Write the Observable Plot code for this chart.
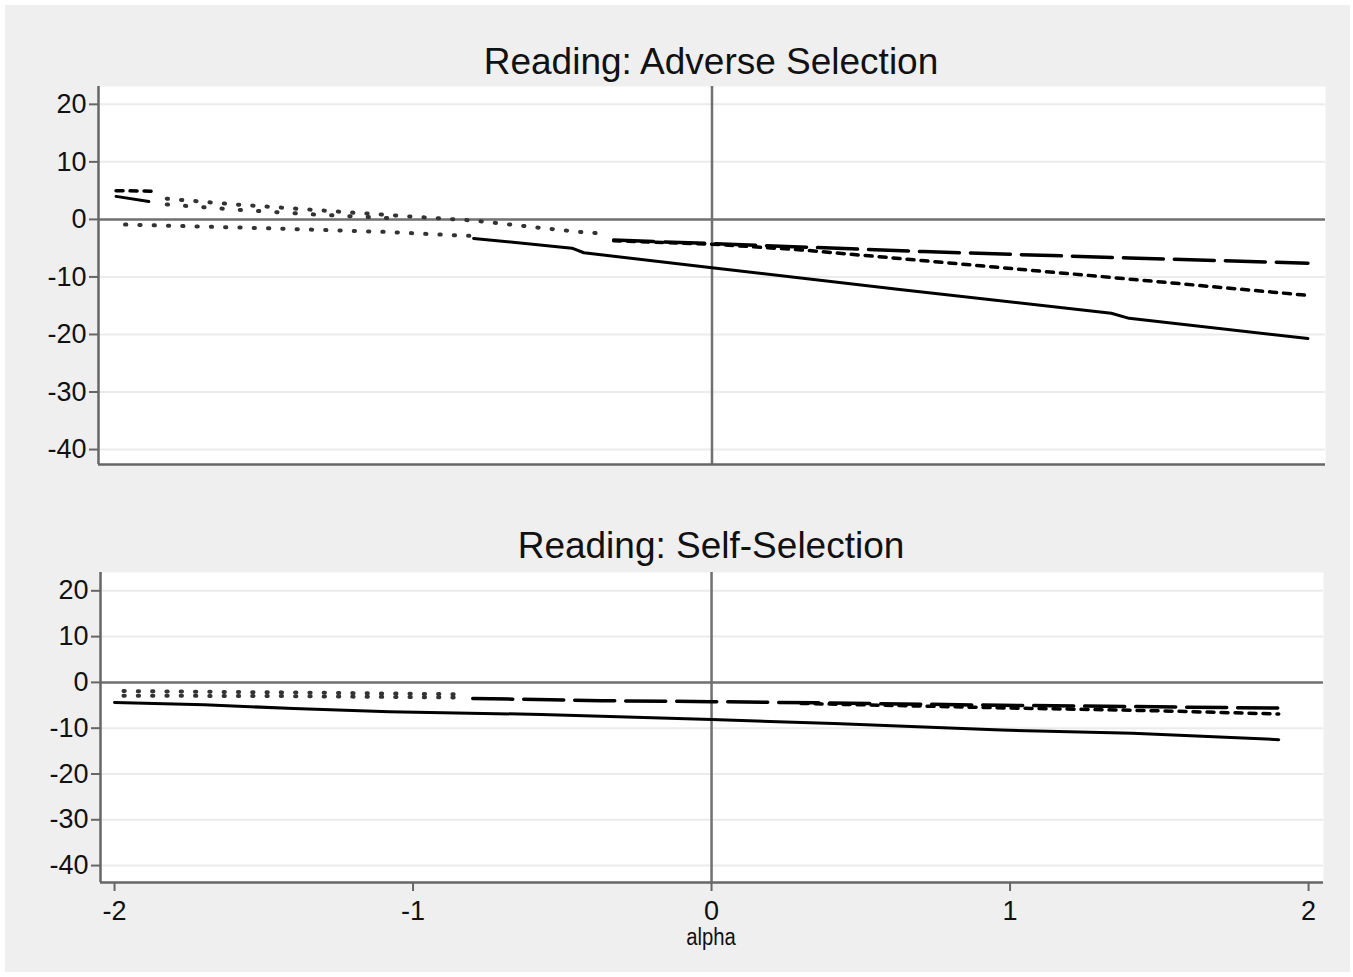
<!DOCTYPE html>
<html>
<head>
<meta charset="utf-8">
<script src="https://cdn.jsdelivr.net/npm/d3@7"></script>
<script src="https://cdn.jsdelivr.net/npm/@observablehq/plot@0.6"></script>
<style>
  html, body { margin: 0; padding: 0; background: #ffffff; }
  #page { position: absolute; left: 5px; top: 5px; width: 1345px; height: 967px; background: #efefef; }
  .panel { position: absolute; left: 0; }
  .title { position: absolute; left: 0; width: 1422px; text-align: center; font-family: "Liberation Sans", Arial, sans-serif; font-size: 37px; line-height: 40px; color: #111; }
  .xlabel { position: absolute; left: 0; width: 1422px; text-align: center; font-family: "Liberation Sans", Arial, sans-serif; font-size: 23px; line-height: 24px; color: #111; transform: scaleX(0.88); transform-origin: 711px 0; }
</style>
</head>
<body>
<div id="page"></div>
<div class="title" style="top:42px">Reading: Adverse Selection</div>
<div class="title" style="top:526px">Reading: Self-Selection</div>
<div id="p1" class="panel" style="top:80px"></div>
<div id="p2" class="panel" style="top:560px"></div>
<div class="xlabel" style="top:925px">alpha</div>
<script>
// ---- data (alpha, effect) ----
const yTicks = [20, 10, 0, -10, -20, -30, -40];
const xTicks = [-2, -1, 0, 1, 2];

// Panel 1: Reading: Adverse Selection
const advSolid = [[-2, 4.0], [-1.89, 3.1], [-1.5, null], [-0.8, -3.3], [-0.47, -5.0], [-0.43, -5.8], [0, -8.4], [0.63, -12.2], [1.34, -16.3], [1.4, -17.2], [2, -20.7]];
const advLongDash = [[-0.33, -3.6], [0, -4.2], [0.71, -5.6], [1.4, -6.7], [2, -7.6]];
const advShortDash = [[-2, 5.0], [-1.88, 4.9], [-1.5, null], [-0.33, -3.7], [0, -4.3], [0.3, -5.3], [0.63, -6.8], [1.3, -9.9], [2, -13.2]];
const advDotUpper = [[-1.83, 3.6], [-1.6, 2.6], [-1.35, 1.7], [-1.07, 0.7], [-0.8, -0.2], [-0.57, -1.5], [-0.44, -2.2], [-0.35, -2.5]];
const advDotUpper2 = [[-1.83, 2.6], [-1.6, 1.7], [-1.35, 0.9], [-1.07, 0.2]];
const advDotLower = [[-1.97, -0.9], [-1.52, -1.5], [-1.08, -2.2], [-0.85, -2.8], [-0.79, -2.9]];

// Panel 2: Reading: Self-Selection
const selfSolid = [[-2, -4.4], [-1.7, -4.9], [-1.4, -5.7], [-1.08, -6.4], [-0.57, -7.0], [-0.37, -7.4], [0, -8.1], [0.41, -9.0], [0.97, -10.4], [1.41, -11.1], [1.9, -12.5]];
const selfLongDash = [[-0.8, -3.5], [-0.37, -4.0], [0, -4.2], [0.4, -4.5], [0.97, -5.0], [1.9, -5.6]];
const selfShortDash = [[0.3, -4.6], [1.0, -5.6], [1.5, -6.2], [1.9, -6.9]];
const selfDotUpper = [[-1.97, -1.9], [-1.4, -2.2], [-0.85, -2.6]];
const selfDotUpper2 = [];
const selfDotLower = [[-1.97, -2.9], [-1.4, -3.0], [-0.85, -3.3]];

const font = '"Liberation Sans", Arial, sans-serif';
const axisGray = "#666666";

function toRows(arr) { return arr.map(([x, y]) => ({x, y})); }

function panel(opts) {
  const {xDomain, yDomain, series, showX, width, height, marginLeft, marginRight, marginTop, marginBottom} = opts;
  const dot = {x: "x", y: "y", stroke: "#333", strokeWidth: 4, strokeDasharray: "1.3,13"};
  const marks = [
    Plot.frame({fill: "white", stroke: null}),
    Plot.gridY(yTicks, {stroke: "#ebebeb", strokeOpacity: 1, strokeWidth: 2}),
    Plot.ruleY([0], {stroke: "#707070", strokeWidth: 2.5}),
    Plot.ruleX([0], {stroke: "#707070", strokeWidth: 2.5}),
    Plot.line(toRows(series.dotUpper), dot),
    Plot.line(toRows(series.dotUpper2), {...dot, strokeDasharray: "1.3,17"}),
    Plot.line(toRows(series.dotLower), dot),
    Plot.line(toRows(series.longDash), {x: "x", y: "y", stroke: "#000", strokeWidth: 3.5, strokeDasharray: "40,11"}),
    Plot.line(toRows(series.shortDash), {x: "x", y: "y", stroke: "#000", strokeWidth: 3.5, strokeDasharray: "7,7"}),
    Plot.line(toRows(series.solid), {x: "x", y: "y", stroke: "#000", strokeWidth: 3}),
    Plot.ruleX([xDomain[0]], {stroke: axisGray, strokeWidth: 2.5}),
    Plot.ruleY([yDomain[0]], {stroke: axisGray, strokeWidth: 2.5}),
    Plot.axisY(yTicks, {tickSize: 9, tickPadding: 3, stroke: axisGray, strokeWidth: 2, fill: "#111", fontSize: 27, label: null, tickFormat: d => String(d)}),
  ];
  if (showX) {
    marks.push(Plot.axisX(xTicks, {tickSize: 9, tickPadding: 9, stroke: axisGray, strokeWidth: 2, fill: "#111", fontSize: 27, label: null, tickFormat: d => String(d)}));
  } else {
    marks.push(Plot.axisX({ticks: [], label: null}));
  }
  return Plot.plot({
    width, height, marginLeft, marginRight, marginTop, marginBottom,
    x: {domain: xDomain},
    y: {domain: yDomain},
    style: {background: "transparent", fontFamily: font, color: "#111", overflow: "visible"},
    marks
  });
}

document.getElementById("p1").append(panel({
  xDomain: [-2.059, 2.059], yDomain: [-42.6, 23.1], showX: false,
  width: 1353, height: 390, marginLeft: 98, marginRight: 28, marginTop: 6, marginBottom: 6,
  series: {solid: advSolid, longDash: advLongDash, shortDash: advShortDash, dotUpper: advDotUpper, dotUpper2: advDotUpper2, dotLower: advDotLower}
}));

document.getElementById("p2").append(panel({
  xDomain: [-2.047, 2.05], yDomain: [-43.7, 24.0], showX: true,
  width: 1353, height: 417, marginLeft: 100, marginRight: 30, marginTop: 12, marginBottom: 95,
  series: {solid: selfSolid, longDash: selfLongDash, shortDash: selfShortDash, dotUpper: selfDotUpper, dotUpper2: selfDotUpper2, dotLower: selfDotLower}
}));
</script>
</body>
</html>
